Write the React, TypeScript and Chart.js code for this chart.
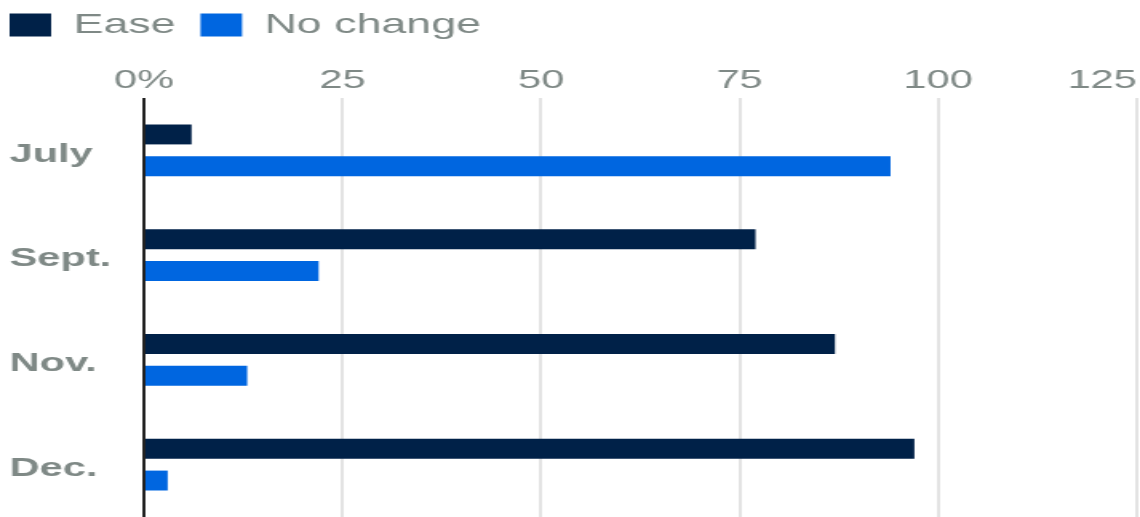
import React, { useEffect, useRef } from "react";
import { Chart, registerables } from "chart.js";

Chart.register(...registerables);

const categories = ["July", "Sept.", "Nov.", "Dec."];
const easeValues = [6, 77, 87, 97];
const noChangeValues = [94, 22, 13, 3];
const tickLabels = ["0%", "25", "50", "75", "100", "125"];
const seriesNames = ["Ease", "No change"];

const TEXT = "#7f8986";
const FONT = "'Liberation Sans', Arial, Helvetica, sans-serif";
const STRETCH = 1.6;
const W = Math.round(1140 / STRETCH);
const H = 517;

export default function App() {
  const ref = useRef<HTMLCanvasElement>(null);
  useEffect(() => {
    const ctx = ref.current!;
    const chart = new Chart(ctx, {
      type: "bar",
      data: {
        labels: categories,
        datasets: [
          {
            label: seriesNames[0],
            data: easeValues,
            backgroundColor: "#002148",
            categoryPercentage: 0.608,
            barPercentage: 0.625,
          },
          {
            label: seriesNames[1],
            data: noChangeValues,
            backgroundColor: "#0066e0",
            categoryPercentage: 0.608,
            barPercentage: 0.625,
          },
        ],
      },
      options: {
        indexAxis: "y",
        animation: false,
        responsive: false,
        maintainAspectRatio: false,
        layout: { padding: { left: 6, right: 2, top: 11, bottom: -3 } },
        plugins: {
          tooltip: { enabled: false },
          legend: {
            position: "top",
            align: "start",
            labels: {
              boxWidth: 26,
              boxHeight: 23,
              color: TEXT,
              padding: 0,
              font: { family: FONT, size: 28 },
              generateLabels: (c: any) => {
                const items = Chart.defaults.plugins.legend.labels.generateLabels(c);
                return items.map((it: any, i: number) => ({
                  ...it,
                  text: i < items.length - 1 ? it.text + "  " : it.text,
                }));
              },
            },
          },
        },
        scales: {
          x: {
            position: "top",
            min: 0,
            max: 125,
            afterFit: (scale: any) => {
              scale.paddingRight = 0;
              scale.height = 49;
            },
            ticks: {
              stepSize: 25,
              color: TEXT,
              padding: 2,
              maxRotation: 0,
              font: { family: FONT, size: 26 },
              callback: (_v: any, i: number) => {
                const t = tickLabels[i];
                return i === tickLabels.length - 1 ? t + "      " : t;
              },
            },
            border: { display: false },
            grid: {
              drawTicks: false,
              lineWidth: 2,
              color: (c: any) => (c.tick && c.tick.value === 0 ? "#222222" : "#e3e3e3"),
            },
          },
          y: {
            afterFit: (scale: any) => {
              scale.width = 84;
              scale.paddingTop = 0;
              scale.paddingBottom = 0;
            },
            ticks: {
              color: TEXT,
              crossAlign: "far",
              labelOffset: 4,
              font: { family: FONT, size: 26, weight: "bold" },
            },
            border: { display: false },
            grid: { display: false },
          },
        },
      },
    });
    return () => chart.destroy();
  }, []);
  return (
    <div style={{ position: "fixed", left: 0, top: 0, width: 1140, height: H, background: "#fff", overflow: "hidden" }}>
      <div style={{ width: W, height: H, transform: `scaleX(${1140 / W})`, transformOrigin: "0 0" }}>
        <canvas ref={ref} width={W} height={H} style={{ display: "block" }} />
      </div>
    </div>
  );
}
